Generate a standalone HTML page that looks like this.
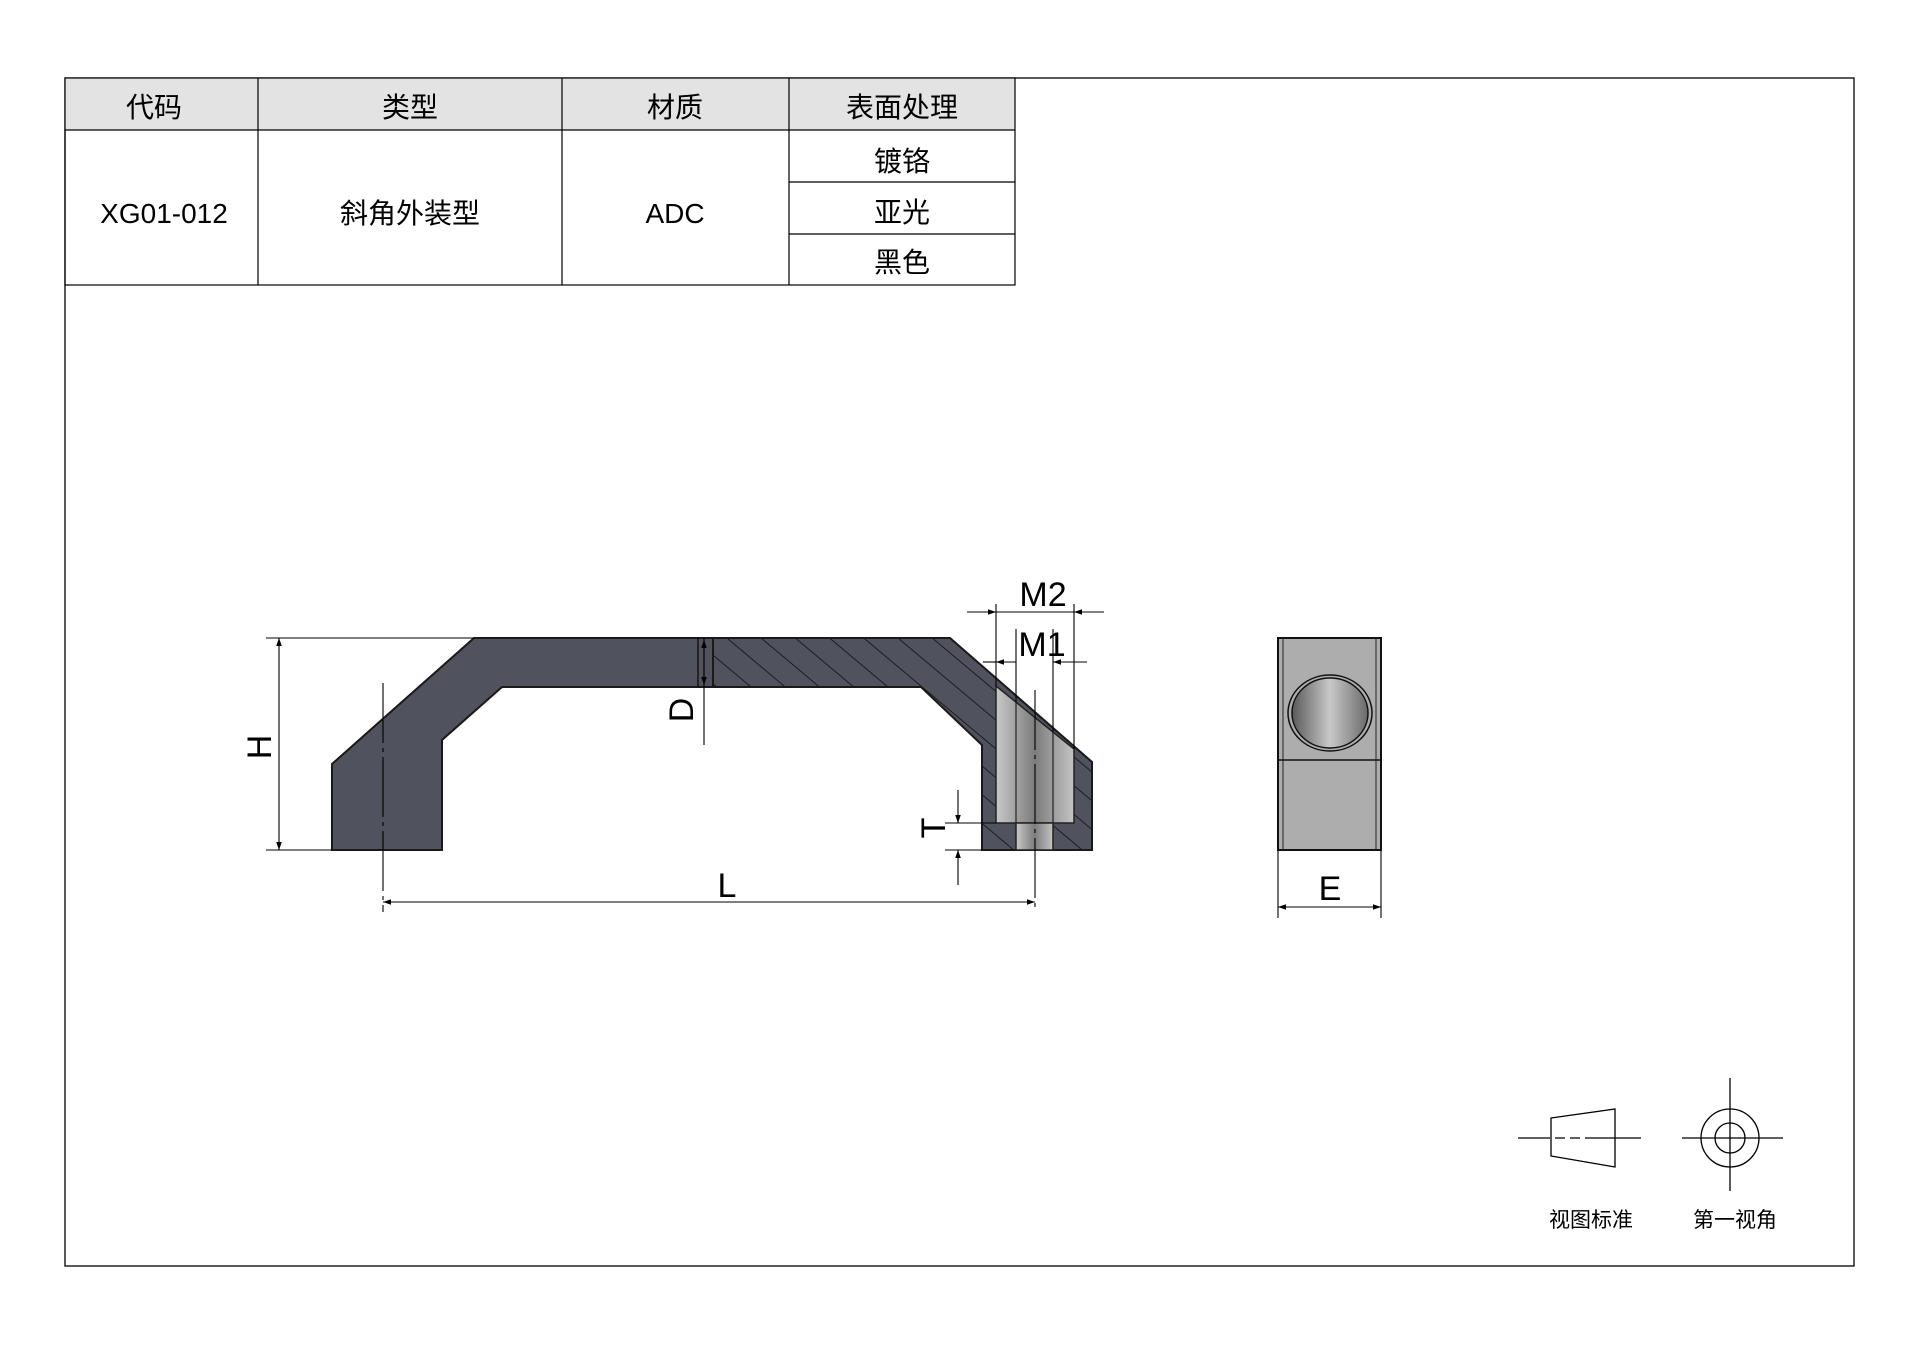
<!DOCTYPE html>
<html><head><meta charset="utf-8"><style>
html,body{margin:0;padding:0;background:#fff}
svg{display:block}
text{font-family:"Liberation Sans","Noto Sans CJK SC",sans-serif;fill:#000}
</style></head><body>
<svg width="1920" height="1357" viewBox="0 0 1920 1357" xmlns="http://www.w3.org/2000/svg">
<defs>
<pattern id="hatch" patternUnits="userSpaceOnUse" width="22" height="22" patternTransform="rotate(-50)">
<rect width="22" height="22" fill="#50535e"/>
<line x1="0" y1="0" x2="0" y2="22" stroke="#15161a" stroke-width="1.8"/>
</pattern>
<linearGradient id="cyl" x1="0" x2="1" y1="0" y2="0">
<stop offset="0" stop-color="#c8c8c8"/><stop offset="0.5" stop-color="#7c7c7c"/><stop offset="1" stop-color="#c4c4c4"/>
</linearGradient>
<linearGradient id="ball" x1="0" x2="1" y1="0" y2="0">
<stop offset="0" stop-color="#5a5a5a"/><stop offset="0.5" stop-color="#c8c8c8"/><stop offset="1" stop-color="#6a6a6a"/>
</linearGradient>
<marker id="ar" viewBox="0 0 10 10" refX="10" refY="5" markerWidth="14" markerHeight="8" orient="auto-start-reverse" markerUnits="userSpaceOnUse"><path d="M0,1.5 L10,5 L0,8.5z" fill="#000"/></marker>
</defs>
<rect x="65" y="78" width="1789" height="1188" fill="none" stroke="#000" stroke-width="1.3"/>
<rect x="65" y="78" width="950" height="52" fill="#e3e3e3"/>
<g stroke="#000" stroke-width="1.2" fill="none">
<rect x="65" y="78" width="950" height="207"/>
<line x1="65" y1="130" x2="1015" y2="130"/>
<line x1="258" y1="78" x2="258" y2="285"/>
<line x1="562" y1="78" x2="562" y2="285"/>
<line x1="789" y1="78" x2="789" y2="285"/>
<line x1="789" y1="182" x2="1015" y2="182"/>
<line x1="789" y1="234" x2="1015" y2="234"/>
</g>
<g font-size="28" text-anchor="middle">
<text x="154" y="117">代码</text>
<text x="410" y="117">类型</text>
<text x="675" y="117">材质</text>
<text x="902" y="117">表面处理</text>
<text x="164" y="223">XG01-012</text>
<text x="410" y="223">斜角外装型</text>
<text x="675" y="223">ADC</text>
<text x="902" y="171">镀铬</text>
<text x="902" y="222">亚光</text>
<text x="902" y="272">黑色</text>
</g>
<path d="M332,850 L332,764 L474,638 L713,638 L713,687 L502,687 L442,740 L442,850 Z" fill="#50535e" stroke="#1a1a1a" stroke-width="2"/>
<path d="M713,638 L950,638 L1092,762 L1092,850 L982,850 L982,745 L921,687 L713,687 Z" fill="url(#hatch)" stroke="#1a1a1a" stroke-width="2"/>
<path d="M996,686 L1074,749 L1074,823 L996,823 Z" fill="url(#cyl)" stroke="#222" stroke-width="1.5"/>
<rect x="1016" y="823" width="37" height="27" fill="url(#cyl)" stroke="#222" stroke-width="1.5"/>
<line x1="1016" y1="702" x2="1016" y2="823" stroke="#222" stroke-width="1.2"/>
<line x1="1053" y1="732" x2="1053" y2="823" stroke="#222" stroke-width="1.2"/>
<g stroke="#000" stroke-width="1.1">
<line x1="383" y1="683" x2="383" y2="912" stroke-dasharray="60,5,4,5"/>
<line x1="1035" y1="690" x2="1035" y2="912" stroke-dasharray="60,5,4,5"/>
<line x1="704" y1="638" x2="704" y2="745"/>
<line x1="698" y1="638" x2="698" y2="687"/>
</g>
<g stroke="#000" stroke-width="1.1" fill="none">
<line x1="266" y1="638" x2="474" y2="638"/>
<line x1="266" y1="850" x2="332" y2="850"/>
<line x1="279" y1="638" x2="279" y2="850" marker-start="url(#ar)" marker-end="url(#ar)"/>
<line x1="383" y1="902" x2="1035" y2="902" marker-start="url(#ar)" marker-end="url(#ar)"/>
<line x1="704" y1="640" x2="704" y2="685" marker-start="url(#ar)" marker-end="url(#ar)"/>
<line x1="996" y1="604" x2="996" y2="686"/>
<line x1="1074" y1="604" x2="1074" y2="749"/>
<line x1="967" y1="612" x2="996" y2="612" marker-end="url(#ar)"/>
<line x1="1104" y1="612" x2="1074" y2="612" marker-end="url(#ar)"/>
<line x1="996" y1="612" x2="1074" y2="612"/>
<line x1="1016" y1="629" x2="1016" y2="702"/>
<line x1="1053" y1="629" x2="1053" y2="732"/>
<line x1="983" y1="662" x2="996" y2="662"/>
<line x1="996" y1="662" x2="1016" y2="662" marker-start="url(#ar)"/>
<line x1="1053" y1="662" x2="1087" y2="662" marker-start="url(#ar)"/>
<line x1="945" y1="823" x2="996" y2="823"/>
<line x1="945" y1="850" x2="982" y2="850"/>
<line x1="958" y1="790" x2="958" y2="823" marker-end="url(#ar)"/>
<line x1="958" y1="885" x2="958" y2="850" marker-end="url(#ar)"/>
<line x1="1278" y1="850" x2="1278" y2="918"/>
<line x1="1381" y1="850" x2="1381" y2="918"/>
<line x1="1278" y1="907" x2="1381" y2="907" marker-start="url(#ar)" marker-end="url(#ar)"/>
</g>
<g font-size="34" text-anchor="middle">
<text x="281" y="757" transform="rotate(-90 271 757)">H</text>
<text x="727" y="897">L</text>
<text x="703" y="720" transform="rotate(-90 693 720)">D</text>
<text x="955" y="838" transform="rotate(-90 945 838)">T</text>
<text x="1043" y="606">M2</text>
<text x="1042" y="656">M1</text>
<text x="1330" y="900">E</text>
</g>
<rect x="1278" y="638" width="103" height="212" fill="#adadad" stroke="#111" stroke-width="2"/>
<line x1="1283" y1="638" x2="1283" y2="850" stroke="#222" stroke-width="1"/>
<line x1="1376" y1="638" x2="1376" y2="850" stroke="#222" stroke-width="1"/>
<line x1="1278" y1="760" x2="1381" y2="760" stroke="#111" stroke-width="1.5"/>
<ellipse cx="1330" cy="713" rx="42" ry="38" fill="none" stroke="#111" stroke-width="1.5"/>
<ellipse cx="1330" cy="713" rx="38" ry="35" fill="url(#ball)" stroke="#111" stroke-width="1.5"/>
<g stroke="#000" stroke-width="1.3" fill="none">
<line x1="1518" y1="1138" x2="1641" y2="1138" stroke-dasharray="32,5,10,5,10,5,60"/>
<path d="M1551,1118 L1615,1109 L1615,1167 L1551,1156 Z"/>
<line x1="1682" y1="1138" x2="1783" y2="1138"/>
<line x1="1730" y1="1078" x2="1730" y2="1191"/>
<circle cx="1730" cy="1138" r="29"/>
<circle cx="1730" cy="1138" r="15"/>
</g>
<g font-size="21" text-anchor="middle">
<text x="1591" y="1227">视图标准</text>
<text x="1735" y="1227">第一视角</text>
</g>
</svg>
</body></html>
